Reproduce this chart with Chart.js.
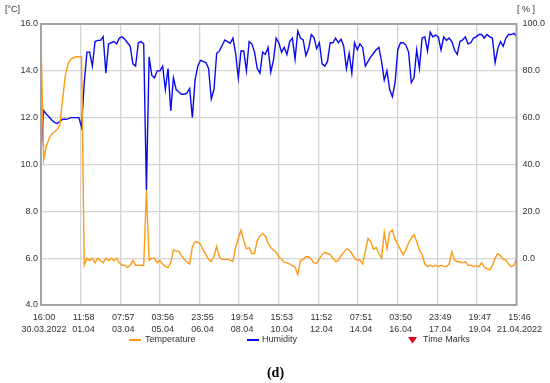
<!DOCTYPE html>
<html>
<head>
<meta charset="utf-8">
<script src="https://cdn.jsdelivr.net/npm/chart.js@4.4.1/dist/chart.umd.min.js"></script>
<style>
  body { margin: 0; background: #fff; }
  #wrap { width: 550px; height: 383px; }
</style>
</head>
<body>
<div id="wrap"><canvas id="climate" width="550" height="383"></canvas></div>
<script>
// one sample every 3 hours from 30.03.2022 16:00
const sampleStepHours = 3;

const temperature = [
  15.3, 10.2, 10.8, 11.1, 11.3, 11.4, 11.5, 11.7, 12.8, 13.8,
  14.3, 14.5, 14.55, 14.6, 14.6, 14.6, 5.7, 6.0, 5.9, 6.0,
  5.8, 6.0, 5.9, 5.8, 6.0, 5.9, 6.0, 5.9, 6.0, 5.8,
  5.7, 5.7, 5.6, 5.7, 5.9, 5.7, 5.7, 5.7, 5.7, 8.9,
  5.9, 6.0, 6.0, 5.8, 5.9, 5.75, 5.65, 5.6, 5.8, 6.35,
  6.3, 6.3, 6.1, 5.95, 5.85, 5.75, 6.5, 6.7, 6.68, 6.6,
  6.35, 6.15, 5.95, 5.85, 6.1, 6.5, 6.05, 5.95, 5.95, 5.95,
  5.92, 5.85, 6.45, 6.85, 7.2, 6.75, 6.4, 6.45, 6.2, 6.2,
  6.75, 6.95, 7.05, 6.95, 6.65, 6.45, 6.35, 6.25, 6.05, 5.95,
  5.83, 5.8, 5.75, 5.68, 5.62, 5.3, 5.9, 5.95, 6.07, 6.05,
  5.95, 5.8, 5.78, 5.98, 6.15, 6.25, 6.2, 6.15, 6.0, 5.85,
  5.9, 6.1, 6.25, 6.4, 6.35, 6.2, 6.0, 5.92, 5.92, 5.75,
  6.3, 6.85, 6.7, 6.38, 6.45, 6.2, 6.0, 7.1, 6.4, 7.1,
  7.2, 6.8, 6.6, 6.35, 6.15, 6.35, 6.65, 6.85, 7.0, 6.7,
  6.35, 6.15, 5.75, 5.64, 5.7, 5.64, 5.7, 5.64, 5.7, 5.65,
  5.64, 5.75, 6.28, 5.92, 5.85, 5.85, 5.8, 5.85, 5.7, 5.7,
  5.64, 5.68, 5.64, 5.8, 5.62, 5.55, 5.5, 5.68, 6.0, 6.2,
  6.1, 5.95, 5.92, 5.75, 5.64, 5.7, 6.0
];

const humidity = [
  45, 63, 61.5, 60.3, 59, 58, 57.5, 58.5, 59.3, 59.3,
  59.5, 60, 60, 60, 60, 56, 75, 88, 88, 82,
  92.5, 93, 93, 94.6, 79, 91.5, 92, 92.5, 91.5, 94,
  94.5, 93.5, 92, 90.5, 83, 82, 92, 92.5, 91.5, 29,
  86, 78, 77, 80, 80, 82, 72, 81, 63, 77,
  72, 71, 70, 70, 70.5, 72.5, 60, 76, 82, 84.5,
  84, 83.5, 81, 68, 72, 87.5, 88.5, 90.8, 93.2, 92.5,
  91.8, 94, 87.5, 77, 88.5, 88.5, 80, 92.5, 91.5, 88,
  81, 79, 88, 87, 90, 79.5, 84.5, 94, 92, 88,
  90, 87, 92.5, 94, 85, 97, 94, 93.2, 86.5, 89.5,
  95.5, 94.2, 89.5, 92, 83, 82, 84, 92, 92, 94,
  92, 93.5, 90.5, 81, 87.5, 79, 92, 89, 91.5, 90,
  82, 84, 86, 87.5, 89, 90, 84, 76, 80, 72,
  69, 75, 89, 92, 92, 91, 88, 75, 77, 89,
  81, 94, 94.5, 88.5, 96.5, 94.5, 95.3, 94.5, 88.9, 94.5,
  93, 94, 92.5, 88.9, 87, 92.5, 93.2, 94.5, 91.5, 92,
  94, 94.5, 95.5, 95.5, 94, 95.5, 94.5, 94, 83.5, 89.5,
  92.5, 90.5, 94, 95.5, 95.5, 96, 94.5
];

// x axis ticks (hours after 30.03.2022 16:00)
const tickHours = [0, 43.97, 87.95, 131.93, 175.92, 219.9, 263.88, 307.87, 351.85, 395.83, 439.82, 483.78, 527.77];
const tickTimes = ["16:00", "11:58", "07:57", "03:56", "23:55", "19:54", "15:53", "11:52", "07:51", "03:50", "23:49", "19:47", "15:46"];
const tickDates = ["30.03.2022", "01.04", "03.04", "05.04", "06.04", "08.04", "10.04", "12.04", "14.04", "16.04", "17.04", "19.04", "21.04.2022"];

const legendNames = ["Temperature", "Humidity", "Time Marks"];

const orange = "#ff9a14";
const blue = "#0a0af2";
const textColor = "#333333";
const fontFamily = '"Liberation Sans", Arial, sans-serif';

const toPoints = (values) => values.map((v, i) => ({ x: i * sampleStepHours, y: v }));

// frame, unit labels, legend and caption
const extras = {
  id: "extras",
  afterDraw(chart) {
    const { ctx, chartArea: a } = chart;
    ctx.save();
    ctx.strokeStyle = "#a3a3a3";
    ctx.lineWidth = 2;
    ctx.strokeRect(a.left, a.top, a.right - a.left, a.bottom - a.top);

    ctx.fillStyle = textColor;
    ctx.font = "9px " + fontFamily;
    ctx.textBaseline = "middle";
    ctx.textAlign = "left";
    ctx.fillText("[°C]", 5, 10);
    ctx.fillText("[ % ]", 517, 10);

    // legend
    const ly = 340;
    ctx.lineWidth = 2;
    ctx.strokeStyle = orange;
    ctx.beginPath(); ctx.moveTo(129, ly); ctx.lineTo(141, ly); ctx.stroke();
    ctx.fillText(legendNames[0], 145, ly);
    ctx.strokeStyle = blue;
    ctx.beginPath(); ctx.moveTo(247, ly); ctx.lineTo(259, ly); ctx.stroke();
    ctx.fillText(legendNames[1], 262, ly);
    ctx.fillStyle = "#e0001b";
    ctx.beginPath(); ctx.moveTo(408, ly - 3); ctx.lineTo(417, ly - 3); ctx.lineTo(412.5, ly + 3.5); ctx.closePath(); ctx.fill();
    ctx.fillStyle = textColor;
    ctx.fillText(legendNames[2], 423, ly);

    ctx.fillStyle = "#000";
    ctx.font = 'bold 14px "Liberation Serif", "DejaVu Serif", serif';
    ctx.textAlign = "center";
    ctx.fillText("(d)", 275.5, 373);
    ctx.restore();
  }
};

const ctx = document.getElementById("climate").getContext("2d");

const climateChart = new Chart(ctx, {
  type: "line",
  data: {
    datasets: [
      {
        label: legendNames[0],
        data: toPoints(temperature),
        borderColor: orange,
        borderWidth: 1.4,
        pointRadius: 0,
        tension: 0,
        yAxisID: "y"
      },
      {
        label: legendNames[1],
        data: toPoints(humidity),
        borderColor: blue,
        borderWidth: 1.4,
        pointRadius: 0,
        tension: 0,
        yAxisID: "y2"
      }
    ]
  },
  options: {
    responsive: false,
    animation: false,
    events: [],
    layout: { padding: { top: 24, bottom: 0, left: 0, right: 0 } },
    plugins: {
      legend: { display: false },
      tooltip: { enabled: false }
    },
    scales: {
      x: {
        type: "linear",
        min: 0,
        max: 527.77,
        afterBuildTicks: (scale) => {
          scale.ticks = tickHours.map((h) => ({ value: h }));
        },
        afterFit: (scale) => { scale.height = 78; },
        grid: { color: "#d4d4d4", lineWidth: 1.3, drawTicks: false },
        border: { display: false },
        ticks: {
          autoSkip: false,
          maxRotation: 0,
          padding: 6,
          labelOffset: 3,
          color: textColor,
          font: { family: fontFamily, size: 9, lineHeight: 1.4 },
          callback: (value, index) => [tickTimes[index], tickDates[index]]
        }
      },
      y: {
        position: "left",
        min: 4,
        max: 16,
        afterFit: (scale) => { scale.width = 41; },
        grid: { color: "#d4d4d4", lineWidth: 1.3, drawTicks: false },
        border: { display: false },
        ticks: {
          stepSize: 2,
          padding: 3,
          color: textColor,
          font: { family: fontFamily, size: 9 },
          callback: (v) => v.toFixed(1)
        }
      },
      y2: {
        position: "right",
        min: -20,
        max: 100,
        afterFit: (scale) => { scale.width = 33.5; },
        grid: { display: false, drawTicks: false },
        border: { display: false },
        ticks: {
          stepSize: 20,
          padding: 6,
          color: textColor,
          font: { family: fontFamily, size: 9 },
          callback: (v) => (v < 0 ? "" : v.toFixed(1))
        }
      }
    }
  },
  plugins: [extras]
});
</script>
</body>
</html>
